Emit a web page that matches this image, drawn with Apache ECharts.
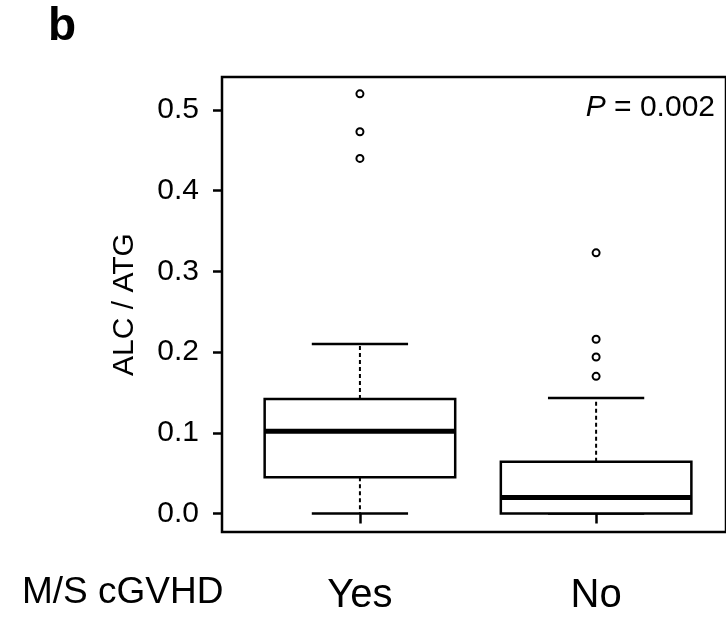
<!DOCTYPE html>
<html>
<head>
<meta charset="utf-8">
<script src="https://cdn.jsdelivr.net/npm/echarts@6/dist/echarts.min.js"></script>
<style>
html,body{margin:0;padding:0;background:#fff;}
#chart{width:726px;height:621px;}
</style>
</head>
<body>
<div id="chart"></div>
<script>
// ---- data ----
const categories = ['Yes', 'No'];
const lowerWhisker = [0.0, 0.0];
const q1 = [0.045, 0.0];
const median = [0.102, 0.020];
const q3 = [0.142, 0.064];
const upperWhisker = [0.210, 0.143];
const outliersYes = [0.520, 0.473, 0.440];
const outliersNo = [0.323, 0.216, 0.194, 0.170];
const yTickValues = [0, 0.1, 0.2, 0.3, 0.4, 0.5];
const yTickLabels = ['0.0', '0.1', '0.2', '0.3', '0.4', '0.5'];

const FONT = 'Liberation Sans, Arial, sans-serif';
const BOX_HALF = 0.4034;
const CAP_HALF = 0.2038;

const boxData = categories.map((c, i) => [i + 1, lowerWhisker[i], q1[i], median[i], q3[i], upperWhisker[i]]);
const outlierData = [];
outliersYes.forEach(v => outlierData.push([1, v]));
outliersNo.forEach(v => outlierData.push([2, v]));

function renderBox(params, api) {
  const x = api.value(0);
  const lo = api.value(1), a = api.value(2), m = api.value(3), b = api.value(4), hi = api.value(5);
  const pTL = api.coord([x - BOX_HALF, b]);
  const pBR = api.coord([x + BOX_HALF, a]);
  const pc = (v) => api.coord([x, v]);
  const capL = (v) => api.coord([x - CAP_HALF, v]);
  const capR = (v) => api.coord([x + CAP_HALF, v]);
  const mL = api.coord([x - BOX_HALF, m]);
  const mR = api.coord([x + BOX_HALF, m]);
  const dashStyle = { stroke: '#000', lineWidth: 2, lineDash: [4, 3] };
  const solid = { stroke: '#000', lineWidth: 2.5 };
  return {
    type: 'group',
    children: [
      { type: 'line', shape: { x1: pc(b)[0], y1: pc(b)[1], x2: pc(hi)[0], y2: pc(hi)[1] }, style: dashStyle },
      { type: 'line', shape: { x1: pc(a)[0], y1: pc(a)[1], x2: pc(lo)[0], y2: pc(lo)[1] }, style: dashStyle },
      { type: 'line', shape: { x1: capL(hi)[0], y1: capL(hi)[1], x2: capR(hi)[0], y2: capR(hi)[1] }, style: solid },
      { type: 'line', shape: { x1: capL(lo)[0], y1: capL(lo)[1], x2: capR(lo)[0], y2: capR(lo)[1] }, style: solid },
      { type: 'rect', shape: { x: pTL[0], y: pTL[1], width: pBR[0] - pTL[0], height: pBR[1] - pTL[1] }, style: { fill: '#fff', stroke: '#000', lineWidth: 2.5 } },
      { type: 'line', shape: { x1: mL[0], y1: mL[1], x2: mR[0], y2: mR[1] }, style: { stroke: '#000', lineWidth: 5 } }
    ]
  };
}

const chart = echarts.init(document.getElementById('chart'), null, { renderer: 'canvas' });
chart.setOption({
  animation: false,
  backgroundColor: '#fff',
  title: [
    { text: 'b', left: 48, top: 4, padding: 0, textStyle: { fontFamily: FONT, fontSize: 46, fontWeight: 'bold', color: '#000' } },
    { text: 'M/S cGVHD', left: 22, top: 574, padding: 0, textStyle: { fontFamily: FONT, fontSize: 37, fontWeight: 'normal', color: '#000' } },
    { text: '{i|P} = 0.002', right: 11, top: 93, padding: 0,
      textStyle: { fontFamily: FONT, fontSize: 30, fontWeight: 'normal', color: '#000',
        rich: { i: { fontFamily: FONT, fontSize: 30, fontStyle: 'italic', color: '#000' } } } }
  ],
  grid: { left: 222, top: 77, right: -4, bottom: 89, show: true, borderColor: '#000', borderWidth: 2.5, backgroundColor: 'transparent' },
  xAxis: {
    type: 'value', min: 0.416, max: 2.550,
    axisLine: { show: false },
    splitLine: { show: false },
    axisTick: { show: true, customValues: [1, 2], length: 10, inside: false, lineStyle: { color: '#000', width: 2.5 } },
    axisLabel: { customValues: [1, 2], formatter: (v) => categories[Math.round(v) - 1] || '', margin: 44,
      fontFamily: FONT, fontSize: 40, color: '#000' }
  },
  yAxis: {
    type: 'value', min: -0.0229, max: 0.5409,
    name: 'ALC / ATG', nameLocation: 'middle', nameRotate: 90, nameGap: 82,
    nameTextStyle: { fontFamily: FONT, fontSize: 30, color: '#000' },
    axisLine: { show: false },
    splitLine: { show: false },
    axisTick: { show: true, customValues: yTickValues, length: 9, lineStyle: { color: '#000', width: 2.5 } },
    axisLabel: { customValues: yTickValues, formatter: (v) => { const i = yTickValues.findIndex(t => Math.abs(t - v) < 1e-6); return i >= 0 ? yTickLabels[i] : ''; },
      margin: 23, fontFamily: FONT, fontSize: 30, color: '#000' }
  },
  series: [
    { type: 'custom', renderItem: renderBox, data: boxData, clip: false, encode: { x: 0, y: [1, 2, 3, 4, 5] } },
    { type: 'scatter', data: outlierData, symbol: 'circle', symbolSize: 7,
      itemStyle: { color: '#fff', borderColor: '#000', borderWidth: 2, opacity: 1 } }
  ]
});
</script>
</body>
</html>
